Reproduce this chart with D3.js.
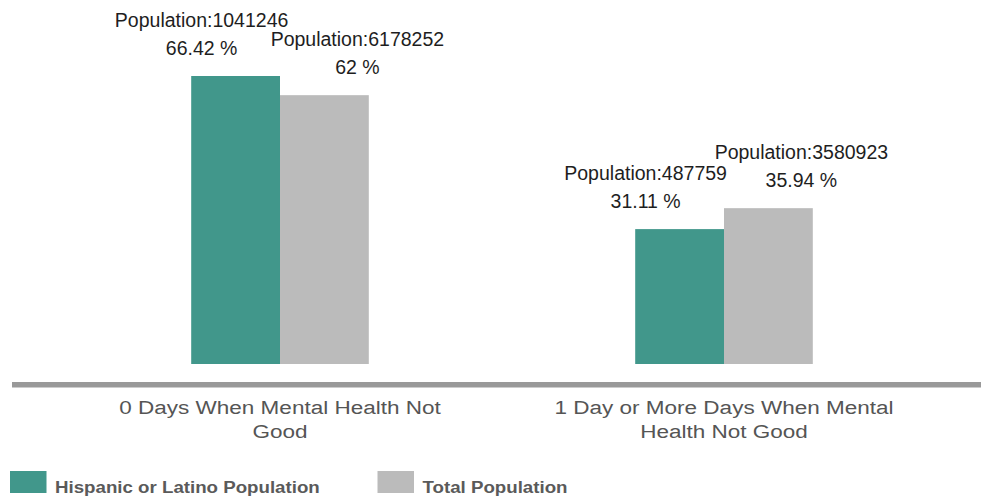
<!DOCTYPE html>
<html>
<head>
<meta charset="utf-8">
<script src="https://cdn.jsdelivr.net/npm/d3@7"></script>
<style>
  html, body { margin: 0; padding: 0; background: #fff; }
  svg { display: block; font-family: "Liberation Sans", Arial, sans-serif; }
</style>
</head>
<body>
<svg id="chart" width="981" height="496"></svg>
<script>
// Days with poor mental health: Hispanic or Latino vs total population
const categories = ["0 Days When Mental Health Not Good", "1 Day or More Days When Mental Health Not Good"];
const seriesNames = ["Hispanic or Latino Population", "Total Population"];
const seriesColors = ["#41978b", "#bbbbbb"];
const hispanicPercent = [66.42, 31.11];
const totalPercent = [62, 35.94];
const hispanicCount = [1041246, 487759];
const totalCount = [6178252, 3580923];

const W = 981, H = 496;
const baseline = 364, topOfTallest = 76;

const svg = d3.select("#chart");

const rows = [];
categories.forEach((c, i) => {
  rows.push({ cat: c, s: 0, pct: hispanicPercent[i], pop: hispanicCount[i] });
  rows.push({ cat: c, s: 1, pct: totalPercent[i], pop: totalCount[i] });
});

const x0 = d3.scaleBand().domain(categories).range([58, 946]).paddingInner(0).paddingOuter(0);
const x1 = d3.scaleBand().domain([0, 1]).range([0, x0.bandwidth() * 0.4]);
const groupOffset = (x0.bandwidth() - x1.range()[1]) / 2;

const y = d3.scaleLinear()
  .domain([0, d3.max(rows, d => d.pct)])
  .range([baseline, topOfTallest]);

const barX = d => x0(d.cat) + groupOffset + x1(d.s);

// bars
svg.append("g").selectAll("rect")
  .data(rows)
  .join("rect")
  .attr("x", barX)
  .attr("y", d => y(d.pct))
  .attr("width", x1.bandwidth())
  .attr("height", d => baseline - y(d.pct))
  .attr("fill", d => seriesColors[d.s]);

// value labels, nudged outward from each pair
const labels = svg.append("g")
  .attr("font-size", 19.5)
  .attr("fill", "#1e1e1e")
  .attr("text-anchor", "middle");

const labelX = d => barX(d) + x1.bandwidth() / 2 + (d.s === 0 ? -34 : 33);

labels.selectAll("text.pop")
  .data(rows)
  .join("text")
  .attr("class", "pop")
  .attr("x", labelX)
  .attr("y", d => y(d.pct) - 49.5)
  .text(d => "Population:" + d.pop);

labels.selectAll("text.pct")
  .data(rows)
  .join("text")
  .attr("class", "pct")
  .attr("x", labelX)
  .attr("y", d => y(d.pct) - 21.5)
  .text(d => d.pct + " %");

// baseline axis rule
svg.append("rect")
  .attr("x", 12)
  .attr("y", 382)
  .attr("width", W - 12)
  .attr("height", 5.5)
  .attr("fill", "#999999");

// category labels, wrapped
const xAxis = d3.axisBottom(x0).tickSize(0).tickPadding(0);
const axisG = svg.append("g")
  .attr("transform", `translate(0, 396)`)
  .call(xAxis);
axisG.select(".domain").remove();

const catScale = 1.185;
axisG.selectAll(".tick text")
  .attr("font-size", 19)
  .attr("font-family", "Liberation Sans, Arial, sans-serif")
  .attr("fill", "#555555")
  .attr("dy", null)
  .attr("y", 0)
  .each(function (d) {
    const t = d3.select(this);
    const words = d.split(" ");
    t.text(null);
    let line = [];
    let lineNo = 0;
    let tspan = t.append("tspan").attr("x", 0).attr("y", 18);
    words.forEach(w => {
      line.push(w);
      tspan.text(line.join(" "));
      if (tspan.node().getComputedTextLength() > 292 && line.length > 1) {
        line.pop();
        tspan.text(line.join(" "));
        line = [w];
        lineNo++;
        tspan = t.append("tspan").attr("x", 0).attr("y", 18 + lineNo * 23.7).text(w);
      }
    });
    t.attr("transform", `scale(${catScale},1)`);
  });

// legend
const legend = svg.append("g");
const legendItem = legend.selectAll("g")
  .data(seriesNames)
  .join("g")
  .attr("transform", (d, i) => `translate(${10 + i * 367.5}, 471)`);

legendItem.append("rect")
  .attr("width", 36.5)
  .attr("height", 22)
  .attr("fill", (d, i) => seriesColors[i]);

legendItem.append("text")
  .attr("x", 45)
  .attr("y", 22)
  .attr("font-size", 17)
  .attr("font-weight", "bold")
  .attr("fill", "#5a5a5a")
  .attr("transform", "translate(45,0) scale(1.1,1) translate(-45,0)")
  .text(d => d);
</script>
</body>
</html>
